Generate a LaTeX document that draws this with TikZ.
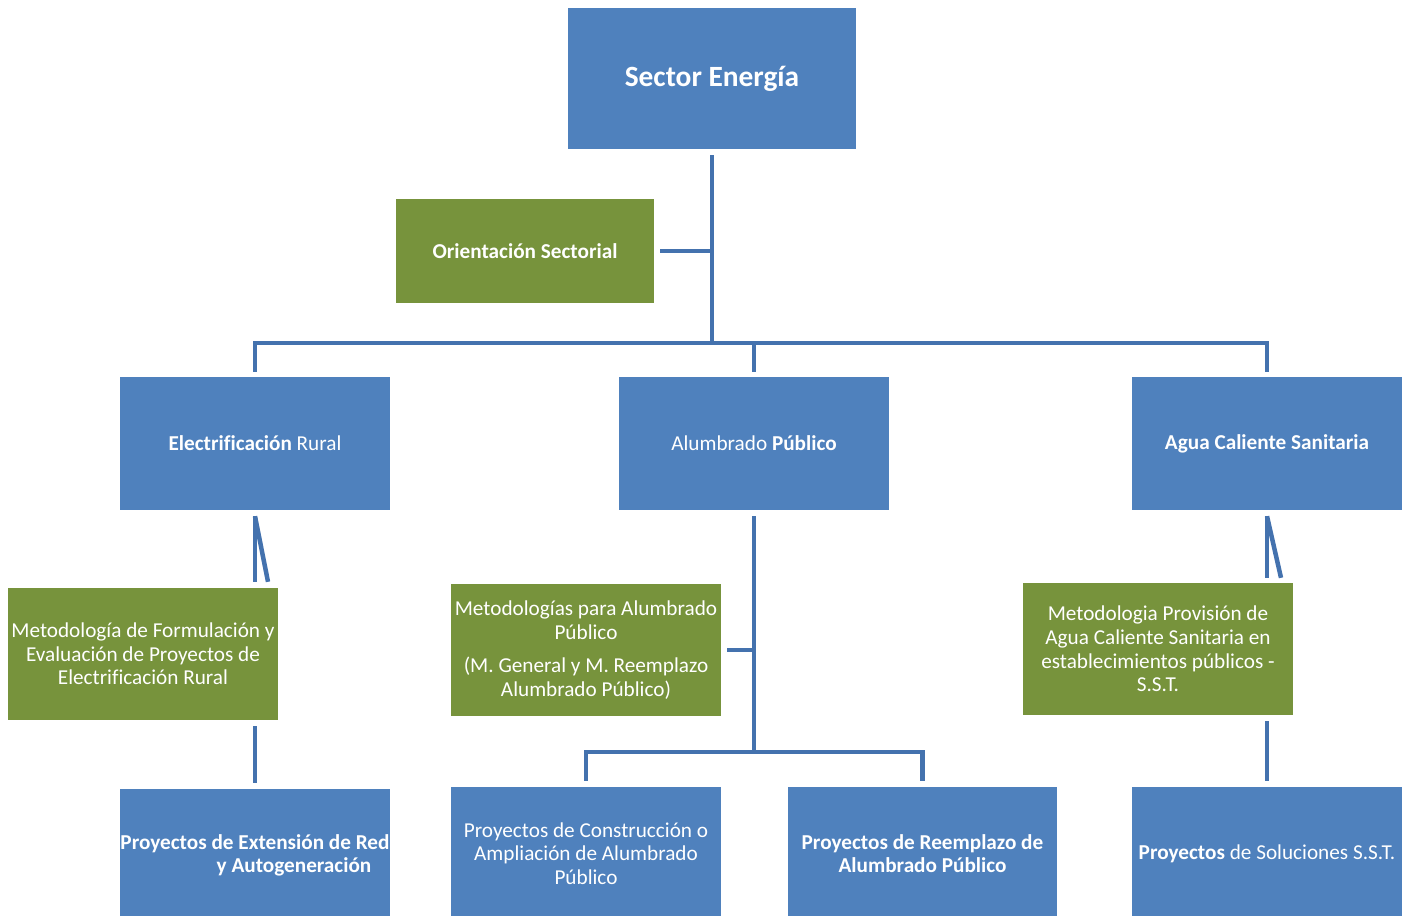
\documentclass[tikz,border=0pt]{standalone}
\usepackage{fontspec}
\setmainfont[Ligatures=NoCommon]{Carlito}
\usetikzlibrary{positioning, calc}

\definecolor{boxblue}{RGB}{79,129,189}
\definecolor{boxgreen}{RGB}{119,147,60}
\definecolor{linkblue}{RGB}{68,114,174}

\begin{document}
\begin{tikzpicture}[
    x=1bp, y=-1bp,
    block/.style={rectangle, fill=boxblue, text=white, inner sep=0pt, minimum width=270bp, minimum height=133bp, align=center, font=\fontsize{21.3}{23.7}\selectfont},
    method/.style={rectangle, fill=boxgreen, text=white, inner sep=0pt, minimum width=270bp, minimum height=132bp, align=center, font=\fontsize{21.3}{23.7}\selectfont},
    link/.style={draw=linkblue, line width=4.5bp}
]
    \useasboundingbox (0,0) rectangle (1411,915);

    % Top
    \node[block, minimum width=288bp, minimum height=141bp, font=\fontsize{29.5}{34}\selectfont\bfseries] (sector) at (712,78.5) {Sector Energía};
    \node[method, minimum width=258bp, minimum height=104bp, font=\fontsize{21.3}{23.7}\selectfont\bfseries] (orient) at (525,251) {Orientación Sectorial};

    % Areas
    \node[block] (elec) at (255,443.5) {\textbf{Electrificación} Rural};
    \node[block] (alum) at (754,443.5) {Alumbrado \textbf{Público}};
    \node[block, font=\fontsize{21.3}{23.7}\selectfont\bfseries] (agua) at (1267,443.5) {Agua Caliente Sanitaria};

    % Methodologies
    \node[method] (metelec) at (143,654) {Metodología de Formulación y\\Evaluación de Proyectos de\\Electrificación Rural};
    \node[method] (metalum) at (586,650) {Metodologías para Alumbrado\\Público\\[9.5bp](M. General y M. Reemplazo\\Alumbrado Público)};
    \node[method] (metagua) at (1158,649) {Metodologia Provisión de\\Agua Caliente Sanitaria en\\establecimientos públicos -\\S.S.T.};

    % Projects
    \node[block, font=\fontsize{21.3}{23.7}\selectfont\bfseries] (proyext) at (255,855.5) {Proyectos de Extensión de Red\\\hspace*{78bp}y Autogeneración};
    \node[block] (proyconst) at (586,853.5) {Proyectos de Construcción o\\Ampliación de Alumbrado\\Público};
    \node[block, minimum width=269bp, font=\fontsize{21.3}{23.7}\selectfont\bfseries] (proyreemp) at (922.5,853.5) {Proyectos de Reemplazo de\\Alumbrado Público};
    \node[block] (proysol) at (1267,853.5) {\textbf{Proyectos} de Soluciones S.S.T.};

    % Trunk and first level
    \coordinate (bus) at (712,343);
    \draw[link] ([yshift=-6bp]sector.south) -- (bus);
    \draw[link] ([xshift=6bp]orient.east) -- (orient.east -| bus);
    \draw[link] ([yshift=5bp]elec.north) |- (bus) -| ([yshift=5bp]agua.north);
    \draw[link] ([yshift=5bp]alum.north) -- (alum.north |- bus);

    % Electrificacion branch
    \coordinate (electop) at ([yshift=-6bp]elec.south);
    \coordinate (elecend) at ([yshift=6bp]elec.south |- metelec.north);
    \draw[link] (electop) -- (elecend);
    \draw[link] (electop) -- ([xshift=13bp]elecend);
    \draw[link] ([yshift=-6bp]elec.south |- metelec.south) -- ([yshift=6bp]proyext.north);

    % Alumbrado branch
    \coordinate (bus2) at (754,752);
    \draw[link] ([yshift=-6bp]alum.south) -- (bus2);
    \draw[link] ([xshift=6bp]metalum.east) -- (metalum.east -| bus2);
    \draw[link] ([yshift=6bp]proyconst.north) |- (bus2) -| ([yshift=6bp]proyreemp.north);

    % Agua branch
    \coordinate (aguatop) at ([yshift=-6bp]agua.south);
    \coordinate (aguaend) at ([yshift=5bp]agua.south |- metagua.north);
    \draw[link] (aguatop) -- (aguaend);
    \draw[link] (aguatop) -- ([xshift=14bp]aguaend);
    \draw[link] ([yshift=-6bp]agua.south |- metagua.south) -- ([yshift=6bp]proysol.north);

\end{tikzpicture}
\end{document}
